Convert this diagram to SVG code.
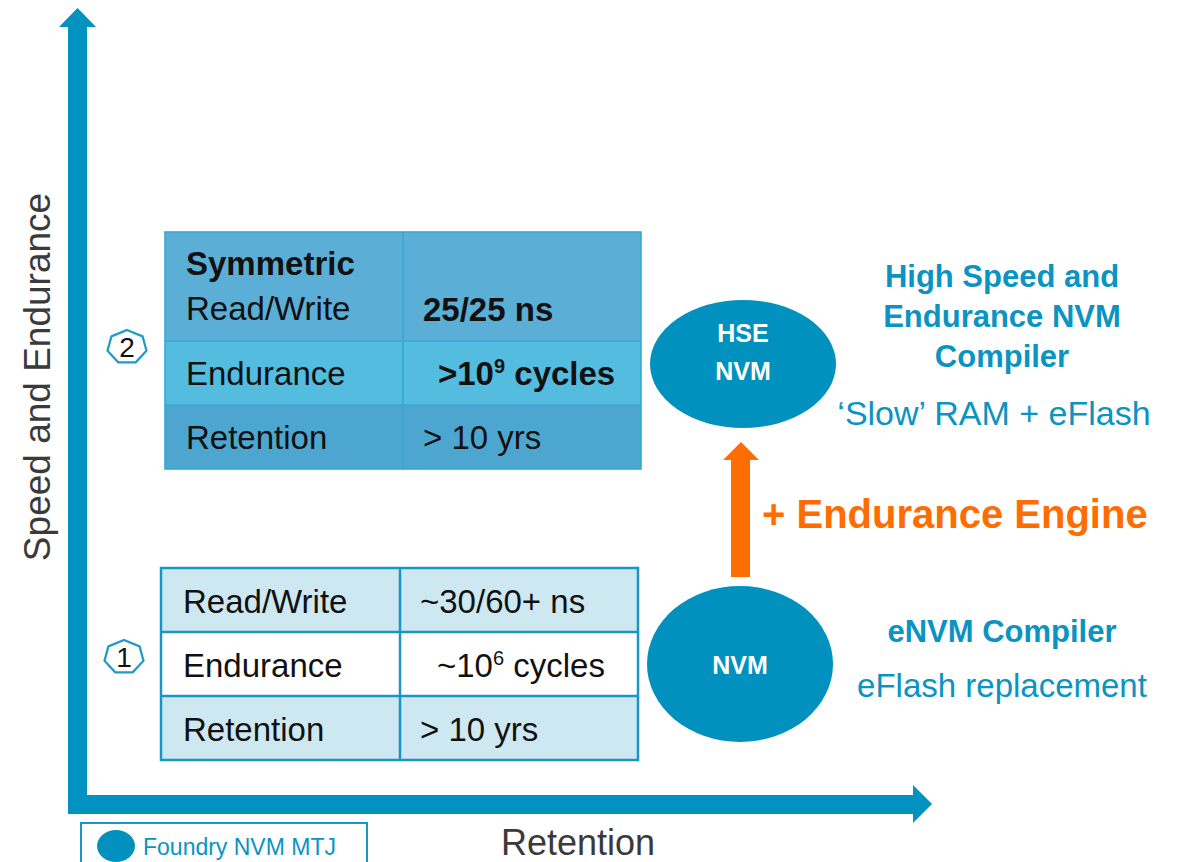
<svg xmlns="http://www.w3.org/2000/svg" width="1183" height="862" viewBox="0 0 1183 862">
<style>
text{font-family:"Liberation Sans",Arial,sans-serif}
.cell{font-size:33px;fill:#111}
.b{font-weight:bold}
.blue{fill:#0B93C1}
.node{fill:#0091BE}
.nodetxt{font-size:25px;font-weight:bold;fill:#fff;text-anchor:middle}
.badge{fill:#fff;stroke:#1E9AC8;stroke-width:2.2}
.badgetxt{font-size:28px;fill:#111;text-anchor:middle}
.t1{stroke:#1A96C6;stroke-width:2.5}
.t2{stroke:#35A8D6;stroke-width:1.6}
</style>
<rect width="1183" height="862" fill="#fff"/>
<g id="axes">
<polygon fill="#0092C0" points="68,814 68,27 59,27 77.5,8 96,27 87,27 87,795 913,795 913,785 932,804 913,823 913,814"/>
<text x="578" y="855" font-size="36" fill="#3a3a3a" text-anchor="middle">Retention</text>
<text transform="translate(50,377) rotate(-90)" font-size="37" fill="#3a3a3a" text-anchor="middle">Speed and Endurance</text>
</g>
<g id="table2">
<rect x="165" y="232" width="476" height="109" fill="#5BAED5"/>
<rect x="165" y="341" width="476" height="64" fill="#53BCDF"/>
<rect x="165" y="405" width="476" height="64" fill="#4DA6CF"/>
<g class="t2" fill="none">
<rect x="165" y="232" width="476" height="237"/>
<line x1="403" y1="232" x2="403" y2="469"/>
<line x1="165" y1="341" x2="641" y2="341"/>
<line x1="165" y1="405" x2="641" y2="405"/>
</g>
<text x="186" y="275" class="cell b">Symmetric</text>
<text x="186" y="320" class="cell">Read/Write</text>
<text x="423" y="321" class="cell b">25/25 ns</text>
<text x="186" y="385" class="cell">Endurance</text>
<text x="438" y="385" class="cell b" font-size="32">&gt;10<tspan font-size="20" dy="-12">9</tspan><tspan dy="12"> cycles</tspan></text>
<text x="186" y="449" class="cell">Retention</text>
<text x="423" y="449" class="cell">&gt; 10 yrs</text>
</g>
<g id="table1">
<rect x="161" y="568" width="477" height="64" fill="#CEE8F1"/>
<rect x="161" y="632" width="477" height="64" fill="#fff"/>
<rect x="161" y="696" width="477" height="64" fill="#CEE8F1"/>
<g class="t1" fill="none">
<rect x="161" y="568" width="477" height="192"/>
<line x1="400" y1="568" x2="400" y2="760"/>
<line x1="161" y1="632" x2="638" y2="632"/>
<line x1="161" y1="696" x2="638" y2="696"/>
</g>
<text x="183" y="613" class="cell">Read/Write</text>
<text x="420" y="613" class="cell">~30/60+ ns</text>
<text x="183" y="677" class="cell">Endurance</text>
<text x="437" y="677" class="cell">~10<tspan font-size="20" dy="-12">6</tspan><tspan dy="12"> cycles</tspan></text>
<text x="183" y="741" class="cell">Retention</text>
<text x="420" y="741" class="cell">&gt; 10 yrs</text>
</g>
<g id="badge2">
<polygon class="badge" points="127,330 142.6,336.4 146.5,350.8 135.7,362.3 118.3,362.3 107.5,350.8 111.4,336.4"/>
<text x="127" y="357" class="badgetxt">2</text>
</g>
<g id="badge1">
<polygon class="badge" points="124,640 139.6,646.4 143.5,660.8 132.7,672.3 115.3,672.3 104.5,660.8 108.4,646.4"/>
<text x="124" y="667" class="badgetxt">1</text>
</g>
<g id="connectors">
<polygon fill="#FF6D00" points="731,577 731,460 723,460 741,442 759,460 750,460 750,577"/>
<text x="762" y="528" font-size="40" font-weight="bold" fill="#FF6D00">+ Endurance Engine</text>
</g>
<g id="hse">
<ellipse class="node" cx="743" cy="364" rx="93" ry="64"/>
<text x="743" y="342" class="nodetxt">HSE</text>
<text x="743" y="380" class="nodetxt">NVM</text>
</g>
<g id="nvm">
<ellipse class="node" cx="740" cy="664" rx="93" ry="78"/>
<text x="740" y="674" class="nodetxt">NVM</text>
</g>
<g id="hse-label" text-anchor="middle">
<text x="1002" y="287" font-size="31" font-weight="bold" class="blue">High Speed and</text>
<text x="1002" y="327" font-size="31" font-weight="bold" class="blue">Endurance NVM</text>
<text x="1002" y="367" font-size="31" font-weight="bold" class="blue">Compiler</text>
<text x="994" y="425" font-size="34" class="blue">‘Slow’ RAM + eFlash</text>
</g>
<g id="nvm-label" text-anchor="middle">
<text x="1002" y="642" font-size="31" font-weight="bold" class="blue">eNVM Compiler</text>
<text x="1002" y="697" font-size="33" class="blue">eFlash replacement</text>
</g>
<g id="legend">
<rect x="81" y="823" width="286" height="50" fill="#fff" stroke="#1A96C6" stroke-width="2"/>
<ellipse class="node" cx="116" cy="846" rx="19" ry="16"/>
<text x="143" y="855" font-size="23" class="blue">Foundry NVM MTJ</text>
</g>
</svg>
